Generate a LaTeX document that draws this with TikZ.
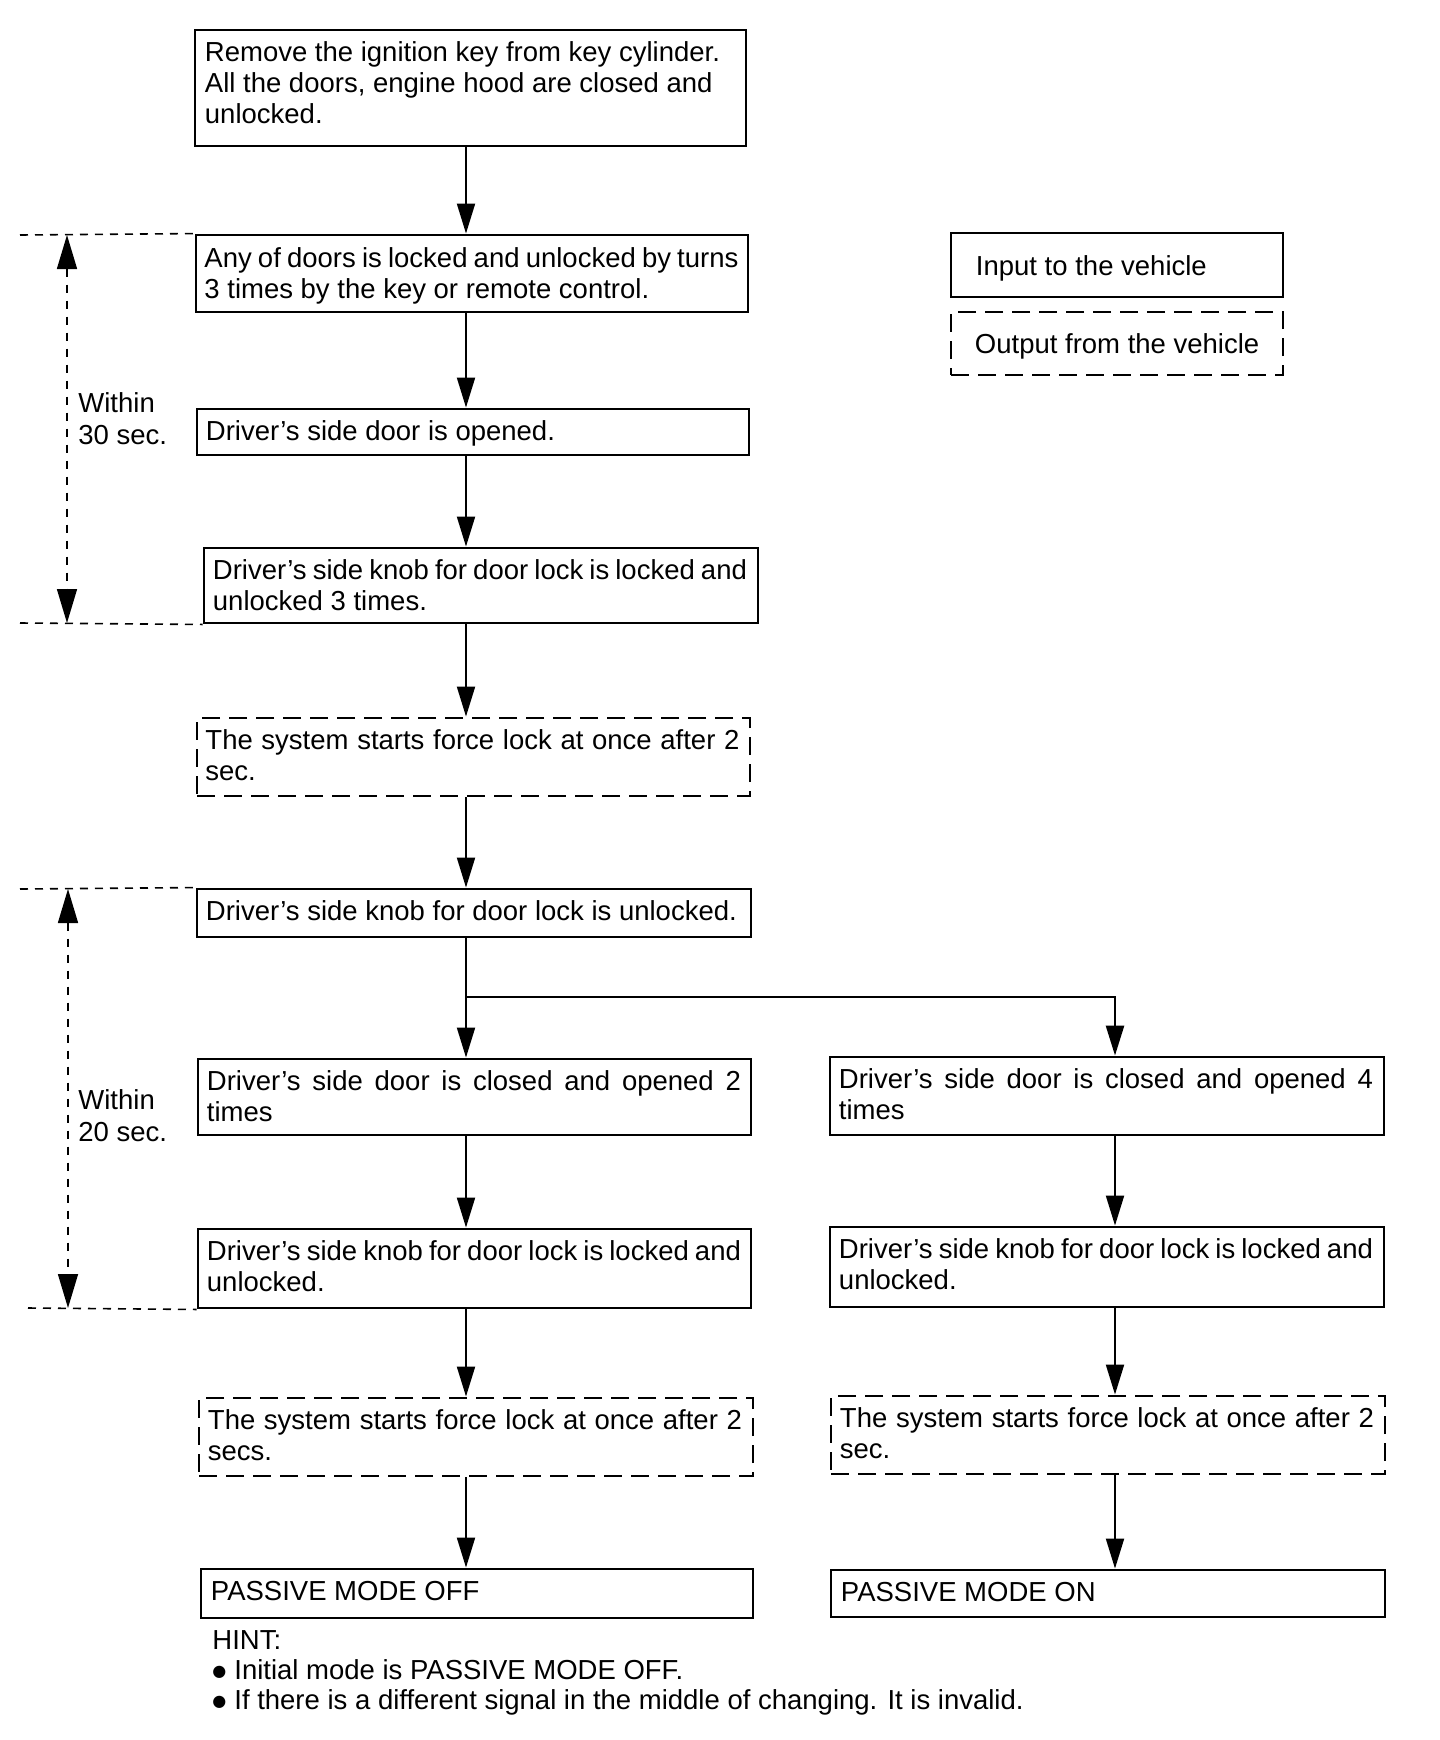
\documentclass[tikz,border=0pt]{standalone}
\usepackage{fontspec}
\setmainfont{Liberation Sans}
\newfontfamily\dejavu{DejaVu Sans}
\usetikzlibrary{arrows.meta,fit}
\newlength\cw \setlength\cw{267pt}
\newcommand\sline[1]{\makebox[\cw][s]{#1}}
\newcommand\blt{\raisebox{1.5pt}{\dejavu\fontsize{8}{8}\selectfont ●}\hspace{4pt}}
\begin{document}
\begin{tikzpicture}[x=0.5pt,y=-0.5pt,
  box/.style={draw, line width=1.45pt, inner sep=0pt},
  obox/.style={box, dash pattern=on 9pt off 4.5pt},
  txt/.style={anchor=north west, inner sep=0pt, align=left, font=\fontsize{13.75}{15.5}\selectfont},
  arr/.style={line width=1pt, -{Triangle[length=15pt,width=9pt]}},
  plain/.style={line width=1pt},
  dimline/.style={line width=0.8pt, dash pattern=on 4pt off 3.5pt},
  dimarr/.style={line width=0.8pt, dash pattern=on 4pt off 4pt, {Triangle[length=17pt,width=10pt]}-{Triangle[length=17pt,width=10pt]}}
]
\useasboundingbox (0,0) rectangle (1440,1740);

% boxes
\node[box,  fit={(195,30) (746,146)}]   (b1) {};
\node[box,  fit={(196,235) (748,312)}]  (b2) {};
\node[box,  fit={(197,409) (749,455)}]  (b3) {};
\node[box,  fit={(204,548) (758,623)}]  (b4) {};
\node[obox, fit={(197,718) (750,796)}]  (b5) {};
\node[box,  fit={(197,889) (751,937)}]  (b6) {};
\node[box,  fit={(198,1059) (751,1135)}] (b7) {};
\node[box,  fit={(830,1057) (1384,1135)}] (b8) {};
\node[box,  fit={(198,1229) (751,1308)}] (b9) {};
\node[box,  fit={(830,1227) (1384,1307)}] (b10) {};
\node[obox, fit={(199,1398) (753,1476)}] (b11) {};
\node[obox, fit={(831,1396) (1385,1474)}] (b12) {};
\node[box,  fit={(201,1569) (753,1618)}] (b13) {};
\node[box,  fit={(831,1570) (1385,1617)}] (b14) {};
\node[box,  fit={(951,233) (1283,297)}] (lin) {};
\node[obox, fit={(951,312) (1283,375)}] (lout) {};

% texts
\node[txt] (t1) at ([xshift=5.5pt,yshift=-6.25pt]b1.north west) {Remove the ignition key from key cylinder.\\All the doors, engine hood are closed and\\unlocked.};
\node[txt] (t2) at ([xshift=4.75pt,yshift=-6.75pt]b2.north west) {\sline{Any of doors is locked and unlocked by turns}\\3 times by the key or remote control.};
\node[txt] (t3) at ([xshift=5pt,yshift=-6.25pt]b3.north west) {Driver’s side door is opened.};
\node[txt] (t4) at ([xshift=5pt,yshift=-6.5pt]b4.north west) {\sline{Driver’s side knob for door lock is locked and}\\unlocked 3 times.};
\node[txt] (t5) at ([xshift=4.75pt,yshift=-6.5pt]b5.north west) {\sline{The system starts force lock at once after 2}\\sec.};
\node[txt] (t6) at ([xshift=5pt,yshift=-6.5pt]b6.north west) {Driver’s side knob for door lock is unlocked.};
\node[txt] (t7) at ([xshift=5pt,yshift=-6.5pt]b7.north west) {\sline{Driver’s side door is closed and opened 2}\\times};
\node[txt] (t8) at ([xshift=5pt,yshift=-6.5pt]b8.north west) {\sline{Driver’s side door is closed and opened 4}\\times};
\node[txt] (t9) at ([xshift=5pt,yshift=-6.5pt]b9.north west) {\sline{Driver’s side knob for door lock is locked and}\\unlocked.};
\node[txt] (t10) at ([xshift=5pt,yshift=-6.5pt]b10.north west) {\sline{Driver’s side knob for door lock is locked and}\\unlocked.};
\node[txt] (t11) at ([xshift=5pt,yshift=-6.5pt]b11.north west) {\sline{The system starts force lock at once after 2}\\secs.};
\node[txt] (t12) at ([xshift=5pt,yshift=-6.5pt]b12.north west) {\sline{The system starts force lock at once after 2}\\sec.};
\node[txt] (t13) at ([xshift=5.5pt,yshift=-6.75pt]b13.north west) {PASSIVE MODE OFF};
\node[txt] (t14) at ([xshift=5.5pt,yshift=-6.75pt]b14.north west) {PASSIVE MODE ON};
\node[txt] (tin) at ([xshift=13pt,yshift=-11.75pt]lin.north west) {Input to the vehicle};
\node[txt] (tout) at ([xshift=12.5pt,yshift=-11.25pt]lout.north west) {Output from the vehicle};

\node[txt, font=\fontsize{13.75}{16}\selectfont] (w30) at (78,392) {Within\\30 sec.};
\node[txt, font=\fontsize{13.75}{16}\selectfont] (w20) at (78,1089) {Within\\20 sec.};
\node[txt, font=\fontsize{13.75}{15}\selectfont] (hint) at (212,1630) {HINT:\\\blt Initial mode is PASSIVE MODE OFF.\\\blt If there is a different signal in the middle of changing. It is invalid.};

% connector columns
\coordinate (cl) at (466,0);
\coordinate (cr) at (1115,0);
\coordinate (split) at (466,997);

\draw[arr] (b1.south -| cl) -- (b2.north -| cl);
\draw[arr] (b2.south -| cl) -- (b3.north -| cl);
\draw[arr] (b3.south -| cl) -- (b4.north -| cl);
\draw[arr] (b4.south -| cl) -- (b5.north -| cl);
\draw[arr] (b5.south -| cl) -- (b6.north -| cl);
\draw[plain] (b6.south -| cl) -- (split);
\draw[arr] (split) -- (b7.north -| cl);
\draw[arr, line width=1.3pt] (split) -| (b8.north -| cr);
\draw[arr] (b7.south -| cl) -- (b9.north -| cl);
\draw[arr] (b9.south -| cl) -- (b11.north -| cl);
\draw[arr] (b11.south -| cl) -- (b13.north -| cl);
\draw[arr] (b8.south -| cr) -- (b10.north -| cr);
\draw[arr] (b10.south -| cr) -- (b12.north -| cr);
\draw[arr] (b12.south -| cr) -- (b14.north -| cr);

% time annotations
\coordinate (h1) at (20,235);
\coordinate (h2) at (20,623);
\coordinate (h3) at (20,889);
\coordinate (h4) at (28,1308);
\coordinate (v1t) at (67,235);
\coordinate (v1b) at (67,623);
\coordinate (v2t) at (68,889);
\coordinate (v2b) at (68,1308);
\draw[dimline] (h1) -- (b2.north west);
\draw[dimline] (h2) -- (b4.south west);
\draw[dimline] (h3) -- (b6.north west);
\draw[dimline] (h4) -- (b9.south west);
\draw[dimarr] (v1t) -- (v1b);
\draw[dimarr] (v2t) -- (v2b);
\end{tikzpicture}
\end{document}
